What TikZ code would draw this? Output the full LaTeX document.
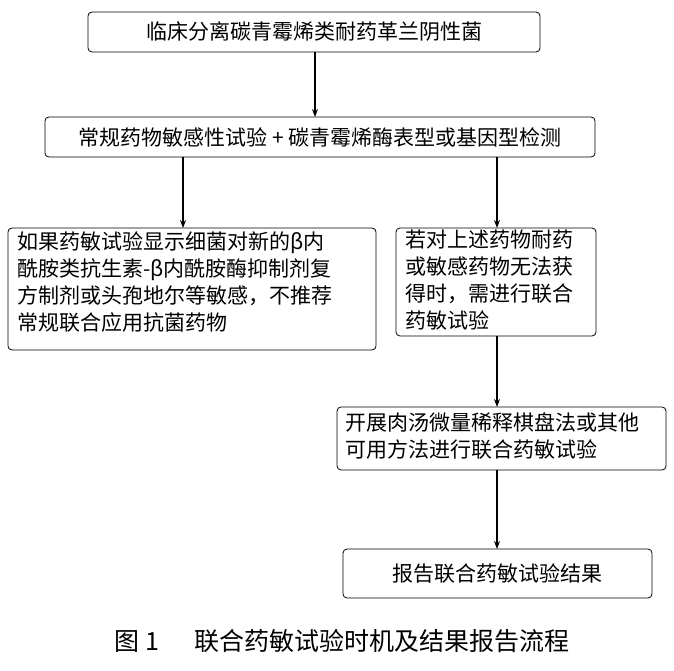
\documentclass[tikz,border=0pt]{standalone}
\usepackage{fontspec}
\setmainfont{Noto Sans CJK SC}
\usetikzlibrary{arrows.meta}
\begin{document}
\begin{tikzpicture}[x=1pt,y=-1pt,
 box/.style={draw,rounded corners=4pt,line width=0.8pt},
 txt/.style={font=\fontsize{21}{27}\selectfont,align=left,inner sep=0},
 arr/.style={-{Stealth[length=8pt,width=6pt]},line width=1.2pt}]
\useasboundingbox (0,0) rectangle (674,671);
\draw[box] (88,12) rectangle (540,52);
\node[txt] (t1) at (314,32) {临床分离碳青霉烯类耐药革兰阴性菌};
\draw[box] (45,117) rectangle (595,157);
\node[txt] (t2) at (320,137) {常规药物敏感性试验 + 碳青霉烯酶表型或基因型检测};
\draw[box] (8,228) rectangle (376,350);
\node[txt,anchor=north west] (t3) at (17,232) {如果药敏试验显示细菌对新的β内\\酰胺类抗生素-β内酰胺酶抑制剂复\\方制剂或头孢地尔等敏感，不推荐\\常规联合应用抗菌药物};
\draw[box] (396,228) rectangle (596,336);
\node[txt,anchor=north west] (t4) at (405,230) {若对上述药物耐药\\或敏感药物无法获\\得时，需进行联合\\药敏试验};
\draw[box] (337,407) rectangle (666,470);
\node[txt,anchor=north west] (t5) at (345,412) {开展肉汤微量稀释棋盘法或其他\\可用方法进行联合药敏试验};
\draw[box] (343,549) rectangle (652,598);
\node[txt] (t6) at (497,574) {报告联合药敏试验结果};
\coordinate (a1) at (315,52); \coordinate (b1) at (315,117);
\coordinate (a2) at (183,157); \coordinate (b2) at (183,228);
\coordinate (a3) at (497,157); \coordinate (b3) at (497,228);
\coordinate (a4) at (497,336); \coordinate (b4) at (497,407);
\coordinate (a5) at (497,470); \coordinate (b5) at (497,549);
\foreach \i in {1,...,5} \draw[arr] (a\i) -- (b\i);
\node[txt,font=\fontsize{25}{28}\selectfont] (cap) at (342,641) {图 1\hspace{1.4em}联合药敏试验时机及结果报告流程};
\end{tikzpicture}
\end{document}
